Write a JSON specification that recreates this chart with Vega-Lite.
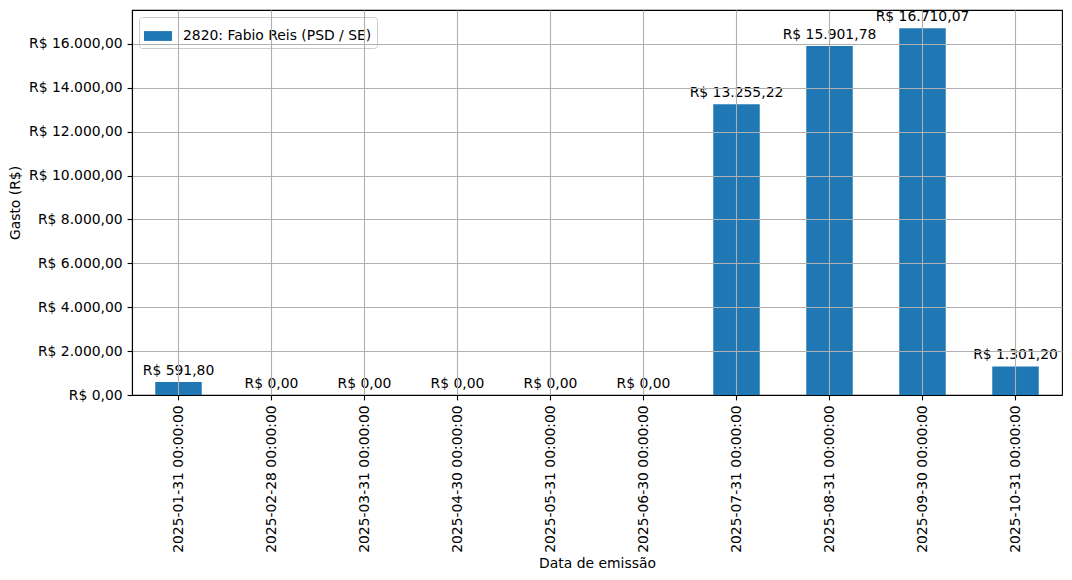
{
  "$schema": "https://vega.github.io/schema/vega-lite/v6.json",
  "width": 930,
  "height": 385,
  "autosize": {"type": "none"},
  "padding": {"left": 132, "top": 10, "right": 10, "bottom": 185},
  "background": "white",
  "data": {
    "values": [
      {"date": "2025-01-31 00:00:00", "gasto": 591.80, "series": "2820: Fabio Reis (PSD / SE)"},
      {"date": "2025-02-28 00:00:00", "gasto": 0, "series": "2820: Fabio Reis (PSD / SE)"},
      {"date": "2025-03-31 00:00:00", "gasto": 0, "series": "2820: Fabio Reis (PSD / SE)"},
      {"date": "2025-04-30 00:00:00", "gasto": 0, "series": "2820: Fabio Reis (PSD / SE)"},
      {"date": "2025-05-31 00:00:00", "gasto": 0, "series": "2820: Fabio Reis (PSD / SE)"},
      {"date": "2025-06-30 00:00:00", "gasto": 0, "series": "2820: Fabio Reis (PSD / SE)"},
      {"date": "2025-07-31 00:00:00", "gasto": 13255.22, "series": "2820: Fabio Reis (PSD / SE)"},
      {"date": "2025-08-31 00:00:00", "gasto": 15901.78, "series": "2820: Fabio Reis (PSD / SE)"},
      {"date": "2025-09-30 00:00:00", "gasto": 16710.07, "series": "2820: Fabio Reis (PSD / SE)"},
      {"date": "2025-10-31 00:00:00", "gasto": 1301.20, "series": "2820: Fabio Reis (PSD / SE)"}
    ]
  },
  "encoding": {
    "x": {
      "field": "date",
      "type": "nominal",
      "sort": null,
      "scale": {"paddingInner": 0.5, "paddingOuter": 0.25},
      "axis": {
        "title": "Data de emissão",
        "labelAngle": 270,
        "grid": true,
        "zindex": 1,
        "titlePadding": 4
      }
    },
    "y": {
      "field": "gasto",
      "type": "quantitative",
      "scale": {"domain": [0, 17545.6], "nice": false, "zero": true},
      "axis": {
        "title": "Gasto (R$)",
        "values": [0, 2000, 4000, 6000, 8000, 10000, 12000, 14000, 16000],
        "format": "$,.2f",
        "grid": true,
        "zindex": 1,
        "titlePadding": 6
      }
    }
  },
  "layer": [
    {
      "mark": {"type": "bar", "color": "#1f77b4"},
      "encoding": {
        "color": {
          "field": "series",
          "type": "nominal",
          "scale": {"range": ["#1f77b4"]},
          "legend": {
            "title": null,
            "orient": "top-left",
            "offset": 7,
            "padding": 5,
            "symbolType": "M-1,-0.35H1V0.35H-1Z",
            "symbolSize": 784,
            "symbolStrokeWidth": 0,
            "labelOffset": 11,
            "labelLimit": 0,
            "labelFontSize": 13.9,
            "labelFont": "DejaVu Sans",
            "labelColor": "black",
            "strokeColor": "#cccccc",
            "fillColor": "rgba(255,255,255,0.8)",
            "cornerRadius": 3
          }
        }
      }
    },
    {
      "mark": {
        "type": "text",
        "baseline": "bottom",
        "dy": -4,
        "font": "DejaVu Sans",
        "fontSize": 13.9,
        "color": "black"
      },
      "encoding": {
        "text": {"field": "gasto", "type": "quantitative", "format": "$,.2f"}
      }
    }
  ],
  "config": {
    "locale": {
      "number": {
        "decimal": ",",
        "thousands": ".",
        "grouping": [3],
        "currency": ["R$ ", ""]
      }
    },
    "view": {"stroke": "black", "strokeWidth": 1.1},
    "axis": {
      "labelFont": "DejaVu Sans",
      "labelFontSize": 13.9,
      "labelColor": "black",
      "titleFont": "DejaVu Sans",
      "titleFontSize": 13.9,
      "titleFontWeight": "normal",
      "titleColor": "black",
      "domainColor": "black",
      "domainWidth": 1.1,
      "tickColor": "black",
      "tickWidth": 1.1,
      "tickSize": 4.9,
      "labelPadding": 4.9,
      "gridColor": "#b0b0b0",
      "gridWidth": 1.1,
      "gridOpacity": 1
    }
  }
}
